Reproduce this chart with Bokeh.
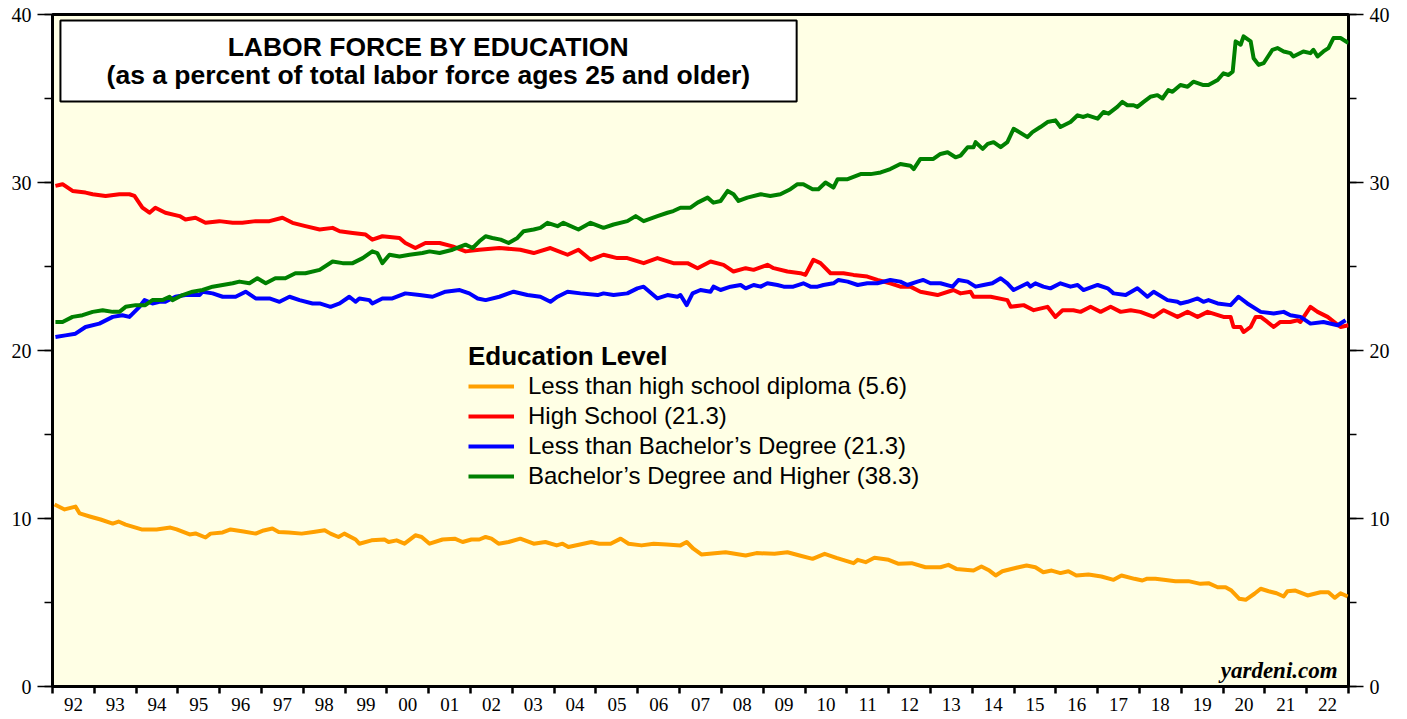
from bokeh.plotting import figure
from bokeh.models import (FixedTicker, LinearAxis, Range1d, CustomJSTickFormatter,
                          Legend, LegendItem, BoxAnnotation, Label)
from bokeh.embed import file_html
from bokeh.resources import INLINE

# ---------------- data (decimal year, percent) ----------------
lths_year = [1992.05, 1992.29, 1992.55, 1992.65, 1992.89, 1993.15, 1993.44, 1993.58, 1993.75, 1993.99,
             1994.13, 1994.49, 1994.82, 1994.97, 1995.28, 1995.42, 1995.66, 1995.78, 1996.07, 1996.26,
             1996.57, 1996.86, 1997.05, 1997.26, 1997.41, 1997.65, 1997.96, 1998.24, 1998.51, 1998.65,
             1998.84, 1998.98, 1999.25, 1999.34, 1999.63, 1999.94, 2000.04, 2000.23, 2000.42, 2000.68,
             2000.83, 2001.02, 2001.33, 2001.62, 2001.81, 2002.02, 2002.21, 2002.36, 2002.50, 2002.67,
             2002.91, 2003.19, 2003.51, 2003.79, 2004.06, 2004.20, 2004.34, 2004.70, 2004.89, 2005.08,
             2005.35, 2005.59, 2005.78, 2006.09, 2006.38, 2006.69, 2007.02, 2007.17, 2007.33, 2007.52,
             2008.10, 2008.58, 2008.84, 2009.27, 2009.58, 2009.87, 2010.18, 2010.47, 2010.75, 2011.16,
             2011.26, 2011.45, 2011.66, 2012.00, 2012.24, 2012.55, 2012.88, 2013.24, 2013.43, 2013.62,
             2014.03, 2014.22, 2014.41, 2014.56, 2014.72, 2015.11, 2015.30, 2015.51, 2015.70, 2015.90,
             2016.11, 2016.30, 2016.49, 2016.78, 2017.09, 2017.38, 2017.57, 2017.88, 2018.07, 2018.17,
             2018.38, 2018.58, 2018.86, 2019.17, 2019.46, 2019.65, 2019.87, 2020.06, 2020.20, 2020.39,
             2020.54, 2020.75, 2020.90, 2021.09, 2021.28, 2021.45, 2021.54, 2021.73, 2022.02, 2022.33,
             2022.52, 2022.67, 2022.81, 2022.98]
lths_val = [10.83, 10.54, 10.71, 10.30, 10.12, 9.94, 9.70, 9.82, 9.64, 9.46,
            9.35, 9.35, 9.46, 9.35, 9.05, 9.11, 8.87, 9.10, 9.17, 9.35,
            9.23, 9.10, 9.29, 9.40, 9.20, 9.17, 9.10, 9.20, 9.30, 9.10,
            8.90, 9.10, 8.75, 8.50, 8.70, 8.75, 8.60, 8.70, 8.50, 9.00,
            8.90, 8.50, 8.75, 8.80, 8.60, 8.75, 8.75, 8.90, 8.80, 8.50,
            8.60, 8.80, 8.50, 8.60, 8.40, 8.50, 8.30, 8.50, 8.60, 8.50,
            8.50, 8.80, 8.50, 8.40, 8.50, 8.45, 8.40, 8.60, 8.20, 7.86,
            7.99, 7.80, 7.94, 7.90, 7.99, 7.80, 7.60, 7.90, 7.66, 7.34,
            7.54, 7.40, 7.66, 7.54, 7.30, 7.34, 7.10, 7.10, 7.24, 7.00,
            6.90, 7.14, 6.90, 6.61, 6.86, 7.10, 7.20, 7.10, 6.80, 6.90,
            6.75, 6.86, 6.61, 6.67, 6.55, 6.35, 6.61, 6.41, 6.31, 6.41,
            6.41, 6.35, 6.27, 6.27, 6.11, 6.15, 5.91, 5.91, 5.71, 5.22,
            5.16, 5.52, 5.82, 5.67, 5.55, 5.36, 5.67, 5.71, 5.42, 5.61,
            5.61, 5.28, 5.55, 5.36]

hs_year = [1992.07, 1992.24, 1992.48, 1992.79, 1992.96, 1993.27, 1993.60, 1993.84, 1993.96, 1994.15,
           1994.32, 1994.46, 1994.70, 1995.04, 1995.18, 1995.42, 1995.66, 1995.99, 1996.31, 1996.54,
           1996.86, 1997.19, 1997.50, 1997.74, 1998.05, 1998.39, 1998.70, 1998.87, 1999.18, 1999.49,
           1999.65, 1999.89, 2000.30, 2000.44, 2000.68, 2000.92, 2001.26, 2001.57, 2001.88, 2002.21,
           2002.69, 2003.19, 2003.51, 2003.91, 2004.32, 2004.58, 2004.87, 2005.18, 2005.51, 2005.75,
           2006.14, 2006.47, 2006.85, 2007.19, 2007.43, 2007.74, 2008.05, 2008.29, 2008.58, 2008.77,
           2009.10, 2009.25, 2009.58, 2009.89, 2010.01, 2010.20, 2010.37, 2010.61, 2010.92, 2011.16,
           2011.49, 2011.73, 2012.04, 2012.28, 2012.52, 2012.76, 2013.17, 2013.55, 2013.72, 2013.96,
           2014.03, 2014.44, 2014.84, 2014.92, 2015.23, 2015.47, 2015.80, 2015.99, 2016.16, 2016.42,
           2016.59, 2016.83, 2017.07, 2017.31, 2017.55, 2017.79, 2018.02, 2018.34, 2018.58, 2018.91,
           2019.15, 2019.39, 2019.63, 2020.01, 2020.18, 2020.25, 2020.42, 2020.49, 2020.66, 2020.78,
           2020.90, 2021.06, 2021.21, 2021.37, 2021.61, 2021.78, 2021.85, 2022.09, 2022.26, 2022.50,
           2022.81, 2023.00]
hs_val = [29.8, 29.9, 29.5, 29.4, 29.3, 29.2, 29.3, 29.3, 29.2, 28.5,
          28.2, 28.5, 28.2, 28.0, 27.8, 27.9, 27.6, 27.7, 27.6, 27.6,
          27.7, 27.7, 27.9, 27.6, 27.4, 27.2, 27.3, 27.1, 27.0, 26.9,
          26.6, 26.8, 26.7, 26.4, 26.1, 26.4, 26.4, 26.2, 25.9, 26.0,
          26.1, 26.0, 25.8, 26.1, 25.7, 26.0, 25.4, 25.7, 25.5, 25.5,
          25.2, 25.5, 25.2, 25.2, 24.9, 25.3, 25.1, 24.7, 24.9, 24.8,
          25.1, 24.9, 24.7, 24.6, 24.5, 25.4, 25.2, 24.6, 24.6, 24.5,
          24.4, 24.2, 24.0, 23.8, 23.8, 23.5, 23.3, 23.6, 23.4, 23.5,
          23.2, 23.2, 23.0, 22.6, 22.7, 22.4, 22.6, 22.0, 22.4, 22.4,
          22.3, 22.6, 22.3, 22.6, 22.3, 22.4, 22.3, 22.0, 22.4, 22.0,
          22.3, 22.0, 22.3, 22.0, 22.0, 21.4, 21.4, 21.1, 21.4, 22.0,
          22.0, 21.7, 21.4, 21.7, 21.7, 21.8, 21.7, 22.6, 22.3, 22.0,
          21.4, 21.5]

ltba_year = [1992.07, 1992.31, 1992.55, 1992.79, 1993.12, 1993.44, 1993.67, 1993.84, 1994.08, 1994.20,
             1994.39, 1994.56, 1994.70, 1994.94, 1995.18, 1995.52, 1995.59, 1995.83, 1996.07, 1996.38,
             1996.62, 1996.86, 1997.19, 1997.43, 1997.67, 1997.91, 1998.22, 1998.39, 1998.65, 1998.87,
             1999.10, 1999.25, 1999.34, 1999.58, 1999.65, 1999.89, 2000.13, 2000.44, 2000.78, 2001.09,
             2001.40, 2001.74, 2001.97, 2002.17, 2002.36, 2002.69, 2003.03, 2003.36, 2003.67, 2003.91,
             2004.08, 2004.32, 2004.63, 2005.04, 2005.18, 2005.42, 2005.75, 2005.99, 2006.14, 2006.47,
             2006.71, 2006.95, 2007.02, 2007.17, 2007.31, 2007.50, 2007.74, 2007.81, 2007.98, 2008.22,
             2008.46, 2008.58, 2008.77, 2008.94, 2009.10, 2009.34, 2009.49, 2009.72, 2009.96, 2010.13,
             2010.30, 2010.44, 2010.68, 2010.80, 2011.02, 2011.26, 2011.49, 2011.73, 2012.04, 2012.28,
             2012.45, 2012.69, 2012.83, 2013.00, 2013.24, 2013.53, 2013.67, 2013.89, 2014.08, 2014.27,
             2014.48, 2014.68, 2014.84, 2014.99, 2015.32, 2015.39, 2015.51, 2015.70, 2015.87, 2016.11,
             2016.35, 2016.52, 2016.66, 2017.00, 2017.24, 2017.38, 2017.67, 2017.95, 2018.19, 2018.34,
             2018.67, 2018.91, 2018.98, 2019.15, 2019.39, 2019.53, 2019.65, 2019.87, 2020.18, 2020.37,
             2020.58, 2020.90, 2021.21, 2021.45, 2021.61, 2021.85, 2022.09, 2022.40, 2022.74, 2022.93]
ltba_val = [20.8, 20.9, 21.0, 21.4, 21.6, 22.0, 22.1, 22.0, 22.6, 23.0,
            22.8, 22.9, 22.9, 23.2, 23.3, 23.3, 23.5, 23.4, 23.2, 23.2,
            23.5, 23.1, 23.1, 22.9, 23.2, 23.0, 22.8, 22.8, 22.6, 22.8,
            23.2, 22.9, 23.1, 23.0, 22.8, 23.1, 23.1, 23.4, 23.3, 23.2,
            23.5, 23.6, 23.4, 23.1, 23.0, 23.2, 23.5, 23.3, 23.2, 22.9,
            23.2, 23.5, 23.4, 23.3, 23.4, 23.3, 23.4, 23.7, 23.8, 23.1,
            23.3, 23.2, 23.3, 22.7, 23.4, 23.6, 23.5, 23.8, 23.6, 23.8,
            23.9, 23.7, 23.9, 23.8, 24.0, 23.9, 23.8, 23.8, 24.0, 23.8,
            23.8, 23.9, 24.0, 24.2, 24.1, 23.9, 24.0, 24.0, 24.2, 24.1,
            23.9, 24.1, 24.2, 24.0, 24.0, 23.8, 24.2, 24.1, 23.8, 23.9,
            24.0, 24.3, 24.0, 23.6, 24.0, 23.8, 24.0, 23.8, 23.7, 24.0,
            23.8, 23.9, 23.6, 23.9, 23.7, 23.4, 23.3, 23.7, 23.2, 23.5,
            23.0, 22.9, 22.8, 22.9, 23.1, 22.9, 23.0, 22.8, 22.7, 23.2,
            22.8, 22.3, 22.2, 22.3, 22.1, 22.0, 21.6, 21.7, 21.5, 21.8]

ba_year = [1992.07, 1992.24, 1992.48, 1992.72, 1992.96, 1993.20, 1993.44, 1993.60, 1993.75, 1993.99,
           1994.22, 1994.39, 1994.63, 1994.80, 1994.87, 1995.11, 1995.35, 1995.59, 1995.83, 1996.07,
           1996.31, 1996.47, 1996.71, 1996.90, 1997.10, 1997.33, 1997.57, 1997.81, 1998.05, 1998.39,
           1998.70, 1998.94, 1999.18, 1999.42, 1999.65, 1999.77, 1999.89, 2000.06, 2000.30, 2000.54,
           2000.85, 2001.02, 2001.26, 2001.57, 2001.88, 2002.05, 2002.21, 2002.36, 2002.52, 2002.72,
           2002.91, 2003.12, 2003.27, 2003.51, 2003.67, 2003.84, 2004.08, 2004.22, 2004.58, 2004.87,
           2005.18, 2005.42, 2005.75, 2005.95, 2006.14, 2006.47, 2006.71, 2006.85, 2007.02, 2007.26,
           2007.43, 2007.67, 2007.81, 2007.98, 2008.15, 2008.29, 2008.41, 2008.62, 2008.94, 2009.17,
           2009.41, 2009.65, 2009.82, 2009.96, 2010.18, 2010.32, 2010.49, 2010.68, 2010.78, 2011.02,
           2011.33, 2011.57, 2011.81, 2012.04, 2012.28, 2012.52, 2012.60, 2012.76, 2013.07, 2013.24,
           2013.41, 2013.60, 2013.72, 2013.89, 2014.03, 2014.08, 2014.25, 2014.37, 2014.51, 2014.68,
           2014.84, 2014.99, 2015.32, 2015.44, 2015.63, 2015.80, 2015.99, 2016.11, 2016.35, 2016.52,
           2016.66, 2016.76, 2017.00, 2017.14, 2017.26, 2017.47, 2017.59, 2017.71, 2017.86, 2017.95,
           2018.10, 2018.26, 2018.43, 2018.55, 2018.69, 2018.79, 2018.98, 2019.15, 2019.29, 2019.53,
           2019.65, 2019.87, 2020.01, 2020.13, 2020.23, 2020.30, 2020.42, 2020.49, 2020.66, 2020.73,
           2020.85, 2020.97, 2021.18, 2021.30, 2021.45, 2021.61, 2021.68, 2021.92, 2022.09, 2022.16,
           2022.26, 2022.40, 2022.52, 2022.64, 2022.81, 2023.00]
ba_val = [21.7, 21.7, 22.0, 22.1, 22.3, 22.4, 22.3, 22.3, 22.6, 22.7,
          22.7, 23.0, 23.0, 23.2, 23.0, 23.3, 23.5, 23.6, 23.8, 23.9,
          24.0, 24.1, 24.0, 24.3, 24.0, 24.3, 24.3, 24.6, 24.6, 24.8,
          25.3, 25.2, 25.2, 25.5, 25.9, 25.8, 25.2, 25.7, 25.6, 25.7,
          25.8, 25.9, 25.8, 26.0, 26.3, 26.1, 26.5, 26.8, 26.7, 26.6,
          26.4, 26.7, 27.1, 27.2, 27.3, 27.6, 27.4, 27.6, 27.2, 27.6,
          27.3, 27.5, 27.7, 28.0, 27.7, 28.0, 28.2, 28.3, 28.5, 28.5,
          28.8, 29.1, 28.8, 28.9, 29.5, 29.3, 28.9, 29.1, 29.3, 29.2,
          29.3, 29.6, 29.9, 29.9, 29.6, 29.6, 30.0, 29.7, 30.2, 30.2,
          30.5, 30.5, 30.6, 30.8, 31.1, 31.0, 30.8, 31.4, 31.4, 31.7,
          31.8, 31.5, 31.6, 32.1, 32.1, 32.4, 32.0, 32.3, 32.4, 32.1,
          32.4, 33.2, 32.7, 33.0, 33.3, 33.6, 33.7, 33.3, 33.6, 34.0,
          33.9, 34.0, 33.8, 34.2, 34.1, 34.5, 34.8, 34.6, 34.6, 34.5,
          34.8, 35.1, 35.2, 35.0, 35.5, 35.4, 35.8, 35.7, 36.0, 35.8,
          35.8, 36.1, 36.5, 36.4, 36.6, 38.4, 38.2, 38.7, 38.4, 37.4,
          37.0, 37.1, 37.9, 38.0, 37.8, 37.7, 37.5, 37.8, 37.7, 37.9,
          37.5, 37.8, 38.0, 38.6, 38.6, 38.3]

series_labels = ["Less than high school diploma (5.6)", "High School (21.3)",
                 "Less than Bachelor\u2019s Degree (21.3)", "Bachelor\u2019s Degree and Higher (38.3)"]
series_colors = ["#ffa000", "#ff0000", "#0000ff", "#008000"]

year_start, year_end = 1992, 2023
y_major = [0, 10, 20, 30, 40]
y_minor = [0, 5, 10, 15, 20, 25, 30, 35, 40]

title_lines = ["LABOR FORCE BY EDUCATION", "(as a percent of total labor force ages 25 and older)"]
legend_title = "Education Level"
source_note = "yardeni.com"

# ---------------- figure ----------------
p = figure(width=1400, height=719,
           x_range=Range1d(year_start, year_end), y_range=Range1d(0, 40),
           output_backend="svg", toolbar_location=None,
           min_border_left=52, min_border_right=52, min_border_top=14, min_border_bottom=33)
p.background_fill_color = "#ffffe5"
p.border_fill_color = "white"
p.outline_line_color = "black"
p.outline_line_width = 3
p.grid.visible = False

# x axis: labels at mid-year, tick marks at year boundaries
xa = p.xaxis[0]
xa.ticker = FixedTicker(ticks=[y + 0.5 for y in range(year_start, year_end)],
                        minor_ticks=list(range(year_start, year_end + 1)))
xa.formatter = CustomJSTickFormatter(code="return String(Math.floor(tick) % 100).padStart(2, '0');")
xa.axis_line_color = None
xa.major_tick_line_color = None
xa.major_tick_out = 7
xa.major_tick_in = 0
xa.minor_tick_out = 7
xa.minor_tick_in = 0
xa.minor_tick_line_color = "black"
xa.minor_tick_line_width = 2.5
xa.major_label_standoff = 4
xa.major_label_text_font = "Liberation Serif"
xa.major_label_text_font_size = "19px"
xa.major_label_text_color = "black"

# y axes (left and right)
ya = p.yaxis[0]
yr = LinearAxis()
p.add_layout(yr, "right")
for ax in (ya, yr):
    ax.ticker = FixedTicker(ticks=y_major, minor_ticks=y_minor)
    ax.axis_line_color = None
    ax.major_tick_out = 15
    ax.major_tick_in = 0
    ax.minor_tick_out = 8
    ax.minor_tick_in = 0
    ax.major_tick_line_color = "black"
    ax.minor_tick_line_color = "black"
    ax.major_tick_line_width = 1.5
    ax.minor_tick_line_width = 1.5
    ax.major_label_standoff = 6
    ax.major_label_text_font = "Liberation Serif"
    ax.major_label_text_font_size = "20px"
    ax.major_label_text_color = "black"

# lines
renderers = []
for xs, ys, c in [(lths_year, lths_val, series_colors[0]),
                  (hs_year, hs_val, series_colors[1]),
                  (ltba_year, ltba_val, series_colors[2]),
                  (ba_year, ba_val, series_colors[3])]:
    renderers.append(p.line(xs, ys, line_color=c, line_width=4, line_join="round"))

# title box
box = BoxAnnotation(left=1992.19, right=2009.80, bottom=34.82, top=39.64,
                    fill_color="white", fill_alpha=1.0,
                    line_color="black", line_alpha=1.0, line_width=2)
p.add_layout(box)
p.add_layout(Label(x=2000.99, y=38.05, text=title_lines[0], text_align="center",
                   text_baseline="middle", text_font="Liberation Sans",
                   text_font_style="bold", text_font_size="26.5px", text_color="black"))
p.add_layout(Label(x=2000.99, y=36.38, text=title_lines[1], text_align="center",
                   text_baseline="middle", text_font="Liberation Sans",
                   text_font_style="bold", text_font_size="26.5px", text_color="black"))

# source note
p.add_layout(Label(x=2022.74, y=0.95, text=source_note, text_align="right",
                   text_baseline="middle", text_font="Liberation Serif",
                   text_font_style="bold italic", text_font_size="23px", text_color="black"))

# legend
legend = Legend(items=[LegendItem(label=l, renderers=[r]) for l, r in zip(series_labels, renderers)],
                location=(416, 196), title=legend_title,
                title_text_font="Liberation Sans", title_text_font_style="bold",
                title_text_font_size="26px", title_text_color="black", title_standoff=0,
                label_text_font="Liberation Sans", label_text_font_size="24px",
                label_text_color="black", label_standoff=14,
                glyph_width=46, glyph_height=20, label_height=20, spacing=2,
                padding=0, margin=0, border_line_color=None, background_fill_alpha=0)
p.add_layout(legend)

open("out.html", "w").write(file_html(p, INLINE))
